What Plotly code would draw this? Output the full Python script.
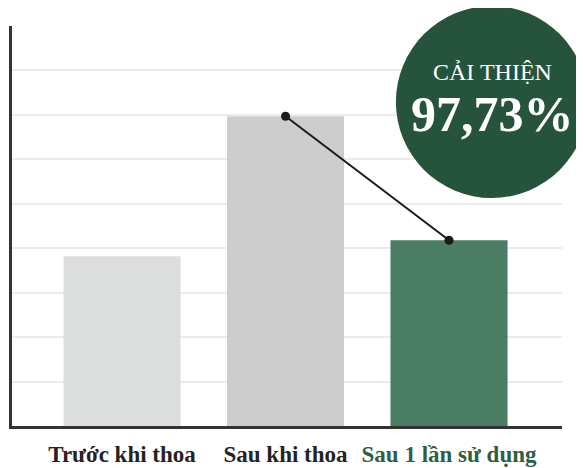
import plotly.graph_objects as go

categories = ["Trước khi thoa", "Sau khi thoa", "Sau 1 lần sử dụng"]
values = [3.82, 6.97, 4.18]
bar_colors = ["#dcdedd", "#cdcdcd", "#4b7d64"]
label_colors = ["#262222", "#262222", "#2e5e45"]
line_x = [1, 2]
line_y = [values[1], values[2]]
badge_title = "CẢI THIỆN"
badge_value = "97,73%"

SERIF = "Liberation Serif, DejaVu Serif, serif"

fig = go.Figure()
fig.add_trace(go.Bar(
    x=list(range(len(categories))), y=values,
    marker=dict(color=bar_colors, line=dict(width=0)),
    width=0.716, hoverinfo="skip",
))
fig.add_trace(go.Scatter(
    x=line_x, y=line_y, mode="lines+markers",
    line=dict(color="#1a1a1a", width=2),
    marker=dict(color="#1a1a1a", size=9),
    hoverinfo="skip",
))

ticktext = [f'<span style="color:{c}"><b>{t}</b></span>' for t, c in zip(categories, label_colors)]

fig.update_layout(
    width=584, height=468,
    margin=dict(l=4, r=30, t=18, b=50),
    plot_bgcolor="white", paper_bgcolor="white",
    showlegend=False,
    xaxis=dict(
        range=[-0.673, 2.691], tickvals=list(range(len(categories))), ticktext=ticktext,
        showgrid=False, zeroline=False, showline=True, linecolor="#333333", linewidth=2.5,
        ticks="", tickfont=dict(family=SERIF, size=23, color="#262222"),
        ticklabelstandoff=6,
        fixedrange=True,
    ),
    yaxis=dict(
        range=[0, 9], tickvals=[1, 2, 3, 4, 5, 6, 7, 8], showticklabels=False,
        showgrid=True, gridcolor="#ebebeb", gridwidth=1.5, zeroline=False,
        showline=True, linecolor="#333333", linewidth=2.5, ticks="",
        fixedrange=True,
    ),
)

# badge circle (paper coordinates relative to plot area)
fig.add_shape(type="circle", xref="paper", yref="paper",
              x0=0.698, x1=1.047, y0=0.57, y1=1.05,
              fillcolor="#25533c", line=dict(width=0), layer="above")
fig.add_annotation(xref="paper", yref="paper", x=0.873, y=0.885,
                   xanchor="center", yanchor="middle",
                   text=badge_title, showarrow=False,
                   font=dict(family=SERIF, size=24, color="white"))
fig.add_annotation(xref="paper", yref="paper", x=0.873, y=0.779,
                   xanchor="center", yanchor="middle",
                   text=f"<b>{badge_value}</b>", showarrow=False,
                   font=dict(family=SERIF, size=50, color="white"))

fig.write_html("out.html")
